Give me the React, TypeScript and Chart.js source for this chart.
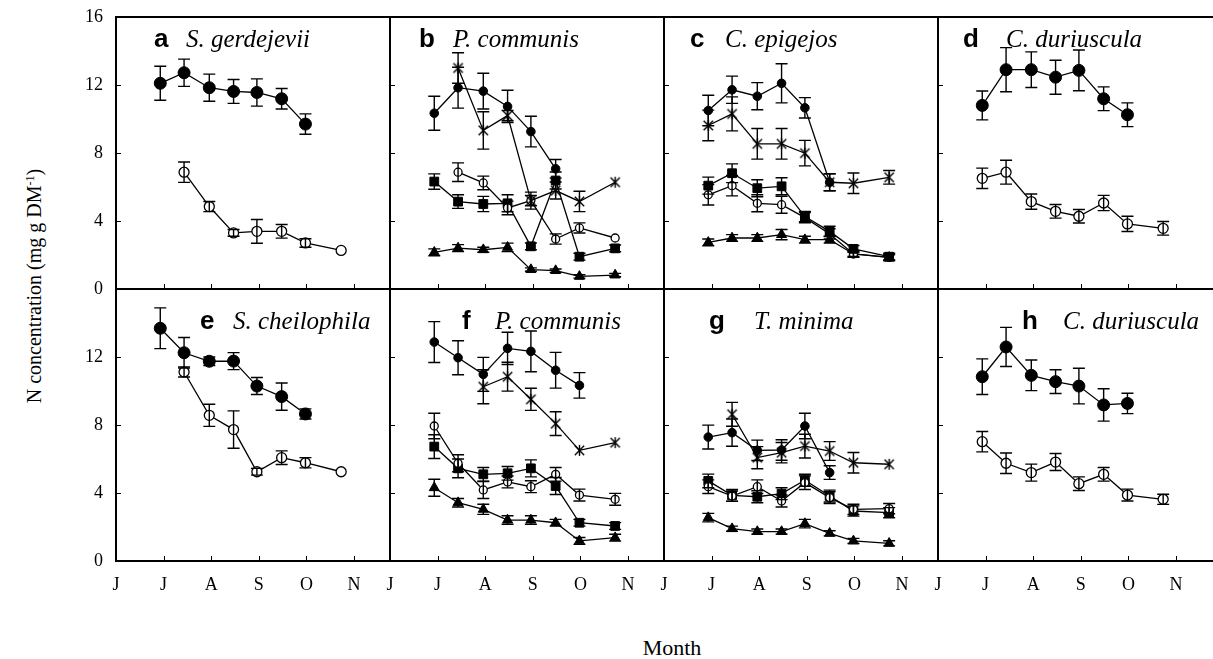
import React, { useEffect, useRef } from 'react';
import { Chart, registerables } from 'chart.js';

Chart.register(...registerables);

// ---------- data ----------
const sampleMonths = [0.93, 1.43, 1.96, 2.47, 2.96, 3.48, 3.98, 4.73];
const monthLabels = ['J', 'J', 'A', 'S', 'O', 'N'];
const monthTicks = [0, 1, 2, 3, 4, 5];
const innerXTicks = [1, 2, 3, 4, 5];
const innerYTicks = [4, 8, 12];
const yLabelsTop = [0, 4, 8, 12, 16];
const yLabelsBottom = [0, 4, 8, 12];

// a  S. gerdejevii
const aFilled = [12.1, 12.72, 11.84, 11.62, 11.56, 11.19, 9.7, null];
const aFilledErr = [1.0, 0.8, 0.8, 0.7, 0.8, 0.6, 0.6, null];
const aOpen = [null, 6.87, 4.85, 3.3, 3.39, 3.39, 2.71, 2.27];
const aOpenErr = [null, 0.6, 0.3, 0.2, 0.7, 0.4, 0.25, 0];

// b  P. communis
const bFilled = [10.34, 11.84, 11.64, 10.74, 9.26, 7.07, null, null];
const bFilledErr = [1.0, 1.2, 1.05, 0.95, 0.9, 0.55, null, null];
const bStar = [null, 13.0, 9.33, 10.2, 5.2, 5.79, 5.15, 6.28];
const bStarErr = [null, 0.9, 1.1, 0.3, 0.5, 0.5, 0.6, 0];
const bOpen = [null, 6.87, 6.24, 4.77, 5.2, 2.94, 3.59, 3.0];
const bOpenErr = [null, 0.55, 0.4, 0.4, 0.3, 0.3, 0.3, 0];
const bSquare = [6.32, 5.14, 5.0, 5.04, 2.51, 6.38, 1.9, 2.39];
const bSquareErr = [0.45, 0.4, 0.45, 0.5, 0.2, 0.5, 0.2, 0.2];
const bTri = [2.16, 2.41, 2.31, 2.45, 1.14, 1.08, 0.74, 0.82];
const bTriErr = [0.2, 0.2, 0.15, 0.25, 0.1, 0.1, 0.1, 0.1];

// c  C. epigejos
const cFilled = [10.5, 11.72, 11.34, 12.1, 10.66, 6.28, null, null];
const cFilledErr = [0.9, 0.8, 0.8, 1.15, 0.6, 0.5, null, null];
const cStar = [9.62, 10.3, 8.54, 8.54, 7.99, 6.28, 6.22, 6.57];
const cStarErr = [0.9, 1.0, 0.9, 0.9, 0.75, 0.5, 0.6, 0.4];
const cSquare = [6.08, 6.81, 5.93, 6.04, 4.26, 3.39, 2.36, 1.9];
const cSquareErr = [0.5, 0.55, 0.5, 0.5, 0.3, 0.3, 0.2, 0.2];
const cOpen = [5.54, 6.08, 5.04, 4.96, 4.2, 3.24, 2.06, 1.86];
const cOpenErr = [0.6, 0.6, 0.5, 0.5, 0.3, 0.3, 0.2, 0.2];
const cTri = [2.74, 3.0, 3.0, 3.2, 2.9, 2.9, 2.06, 1.86];
const cTriErr = [0.2, 0.2, 0.2, 0.3, 0.2, 0.2, 0.15, 0.15];

// d  C. duriuscula
const dFilled = [10.8, 12.9, 12.9, 12.46, 12.86, 11.19, 10.25, null];
const dFilledErr = [0.85, 1.3, 1.05, 1.0, 1.2, 0.7, 0.7, null];
const dOpen = [6.51, 6.87, 5.14, 4.57, 4.28, 5.06, 3.83, 3.57];
const dOpenErr = [0.6, 0.7, 0.45, 0.4, 0.4, 0.45, 0.45, 0.4];

// e  S. cheilophila
const eFilled = [13.69, 12.25, 11.75, 11.76, 10.29, 9.67, 8.65, null];
const eFilledErr = [1.2, 0.9, 0.25, 0.5, 0.5, 0.8, 0.3, null];
const eOpen = [null, 11.12, 8.57, 7.73, 5.25, 6.08, 5.78, 5.25];
const eOpenErr = [null, 0.3, 0.65, 1.1, 0.2, 0.4, 0.3, 0];

// f  P. communis
const fFilled = [12.88, 11.96, 10.98, 12.51, 12.33, 11.22, 10.33, null];
const fFilledErr = [1.2, 1.0, 1.0, 0.95, 1.2, 1.05, 0.75, null];
const fStar = [null, null, 10.25, 10.84, 9.51, 8.08, 6.51, 6.96];
const fStarErr = [null, null, 1.0, 0.85, 0.65, 0.7, 0, 0];
const fOpen = [7.94, 5.75, 4.18, 4.65, 4.37, 5.1, 3.88, 3.63];
const fOpenErr = [0.75, 0.5, 0.5, 0.35, 0.35, 0.4, 0.35, 0.35];
const fSquare = [6.73, 5.45, 5.1, 5.16, 5.45, 4.41, 2.25, 2.06];
const fSquareErr = [0.7, 0.55, 0.4, 0.4, 0.5, 0.5, 0.2, 0.2];
const fTri = [4.31, 3.43, 3.04, 2.41, 2.41, 2.25, 1.18, 1.37];
const fTriErr = [0.5, 0.25, 0.3, 0.25, 0.25, 0.2, 0.2, 0.2];

// g  T. minima
const gFilled = [7.29, 7.55, 6.51, 6.53, 7.94, 5.2, null, null];
const gFilledErr = [0.7, 0.8, 0.6, 0.6, 0.75, 0.4, null, null];
const gStar = [null, 8.63, 6.08, 6.37, 6.76, 6.47, 5.78, 5.69];
const gStarErr = [null, 0.7, 0.65, 0.6, 0.7, 0.55, 0.6, 0];
const gOpen = [4.37, 3.82, 4.37, 3.53, 4.61, 3.73, 3.04, 3.08];
const gOpenErr = [0.4, 0.3, 0.4, 0.35, 0.4, 0.35, 0.3, 0.3];
const gSquare = [4.71, 3.86, 3.78, 3.96, 4.75, 3.82, 2.94, 2.84];
const gSquareErr = [0.4, 0.35, 0.35, 0.35, 0.35, 0.35, 0.3, 0.3];
const gTri = [2.55, 1.9, 1.73, 1.73, 2.2, 1.63, 1.18, 1.04];
const gTriErr = [0.25, 0.15, 0.15, 0.15, 0.25, 0.15, 0.15, 0.15];

// h  C. duriuscula
const hFilled = [10.84, 12.59, 10.92, 10.55, 10.29, 9.18, 9.27, null];
const hFilledErr = [1.05, 1.15, 0.9, 0.7, 1.05, 0.95, 0.6, null];
const hOpen = [7.02, 5.75, 5.2, 5.82, 4.55, 5.1, 3.88, 3.63];
const hOpenErr = [0.6, 0.6, 0.5, 0.5, 0.4, 0.4, 0.35, 0.3];

// ---------- layout / styling ----------
type Kind = 'filled' | 'open' | 'star' | 'square' | 'triangle';
type Val = number | null;
interface SeriesSpec { kind: Kind; values: Val[]; errors: Val[] }
interface PanelSpec {
  letter: string;
  species: string;
  col: number;
  row: number;
  big: boolean;
  letterDx: number;
  speciesDx: number;
  yLabels: number[] | null;
  series: SeriesSpec[];
}

const S = (kind: Kind, values: Val[], errors: Val[]): SeriesSpec => ({ kind, values, errors });

const panels: PanelSpec[] = [
  { letter: 'a', species: 'S. gerdejevii', col: 0, row: 0, big: true, letterDx: 38, speciesDx: 70, yLabels: yLabelsTop,
    series: [S('filled', aFilled, aFilledErr), S('open', aOpen, aOpenErr)] },
  { letter: 'b', species: 'P. communis', col: 1, row: 0, big: false, letterDx: 29, speciesDx: 63, yLabels: null,
    series: [S('filled', bFilled, bFilledErr), S('star', bStar, bStarErr), S('open', bOpen, bOpenErr), S('square', bSquare, bSquareErr), S('triangle', bTri, bTriErr)] },
  { letter: 'c', species: 'C. epigejos', col: 2, row: 0, big: false, letterDx: 26, speciesDx: 61, yLabels: null,
    series: [S('filled', cFilled, cFilledErr), S('star', cStar, cStarErr), S('square', cSquare, cSquareErr), S('open', cOpen, cOpenErr), S('triangle', cTri, cTriErr)] },
  { letter: 'd', species: 'C. duriuscula', col: 3, row: 0, big: true, letterDx: 25, speciesDx: 68, yLabels: null,
    series: [S('filled', dFilled, dFilledErr), S('open', dOpen, dOpenErr)] },
  { letter: 'e', species: 'S. cheilophila', col: 0, row: 1, big: true, letterDx: 84, speciesDx: 117, yLabels: yLabelsBottom,
    series: [S('filled', eFilled, eFilledErr), S('open', eOpen, eOpenErr)] },
  { letter: 'f', species: 'P. communis', col: 1, row: 1, big: false, letterDx: 72, speciesDx: 105, yLabels: null,
    series: [S('filled', fFilled, fFilledErr), S('star', fStar, fStarErr), S('open', fOpen, fOpenErr), S('square', fSquare, fSquareErr), S('triangle', fTri, fTriErr)] },
  { letter: 'g', species: 'T. minima', col: 2, row: 1, big: false, letterDx: 45, speciesDx: 90, yLabels: null,
    series: [S('filled', gFilled, gFilledErr), S('star', gStar, gStarErr), S('open', gOpen, gOpenErr), S('square', gSquare, gSquareErr), S('triangle', gTri, gTriErr)] },
  { letter: 'h', species: 'C. duriuscula', col: 3, row: 1, big: true, letterDx: 84, speciesDx: 125, yLabels: null,
    series: [S('filled', hFilled, hFilledErr), S('open', hOpen, hOpenErr)] },
];

const PANEL_LEFT0 = 116;
const PANEL_W = 274;
const PANEL_H = 272;
const ROW_TOPS = [17, 289];
const PADL = 70;
const PADT = 34;
const PADR = 8;
const PADB = 50;
const TICK_FONT = '"Liberation Serif", "Times New Roman", serif';

function makeAsterisk(size: number): HTMLCanvasElement {
  const c = document.createElement('canvas');
  c.width = size;
  c.height = size;
  const ctx = c.getContext('2d')!;
  ctx.strokeStyle = '#000';
  ctx.lineWidth = 1.4;
  const m = size / 2;
  const r = size / 2 - 1;
  ctx.beginPath();
  ctx.moveTo(m - r * 0.85, m - r * 0.85);
  ctx.lineTo(m + r * 0.85, m + r * 0.85);
  ctx.moveTo(m + r * 0.85, m - r * 0.85);
  ctx.lineTo(m - r * 0.85, m + r * 0.85);
  ctx.moveTo(m, m - r);
  ctx.lineTo(m, m + r);
  ctx.stroke();
  return c;
}

function styleFor(kind: Kind, big: boolean, star: HTMLCanvasElement) {
  switch (kind) {
    case 'filled':
      return { pointStyle: 'circle', pointRadius: big ? 6 : 4.3, pointBackgroundColor: '#000', pointBorderWidth: 1 };
    case 'open':
      return { pointStyle: 'circle', pointRadius: big ? 5 : 4, pointBackgroundColor: '#fff', pointBorderWidth: 1.3 };
    case 'square':
      return { pointStyle: 'rect', pointRadius: 6.2, pointBackgroundColor: '#000', pointBorderWidth: 1 };
    case 'triangle':
      return { pointStyle: 'triangle', pointRadius: 5.8, pointBackgroundColor: '#000', pointBorderWidth: 1 };
    case 'star':
    default:
      return { pointStyle: star, pointRadius: 6, pointBackgroundColor: '#000', pointBorderWidth: 1 };
  }
}

const errorBarPlugin = {
  id: 'errorBars',
  afterDatasetsDraw(chart: any) {
    const ctx = chart.ctx;
    const ys = chart.scales.y;
    ctx.save();
    ctx.strokeStyle = '#000';
    ctx.lineWidth = 1.4;
    chart.data.datasets.forEach((ds: any, i: number) => {
      const meta = chart.getDatasetMeta(i);
      meta.data.forEach((el: any, j: number) => {
        const raw = ds.data[j];
        if (!raw || !raw.e) return;
        const top = ys.getPixelForValue(raw.y + raw.e);
        const bot = ys.getPixelForValue(raw.y - raw.e);
        const cap = 6;
        ctx.beginPath();
        ctx.moveTo(el.x, top);
        ctx.lineTo(el.x, bot);
        ctx.moveTo(el.x - cap, top);
        ctx.lineTo(el.x + cap, top);
        ctx.moveTo(el.x - cap, bot);
        ctx.lineTo(el.x + cap, bot);
        ctx.stroke();
      });
    });
    ctx.restore();
  },
};

const framePlugin = {
  id: 'panelFrame',
  afterDraw(chart: any, _args: any, opts: any) {
    const ctx = chart.ctx;
    const { left, top, right, bottom } = chart.chartArea;
    const xs = chart.scales.x;
    const ys = chart.scales.y;
    ctx.save();
    ctx.strokeStyle = '#000';
    ctx.lineWidth = 2;
    ctx.beginPath();
    ctx.moveTo(right + 1, top);
    ctx.lineTo(left, top);
    ctx.lineTo(left, bottom);
    ctx.lineTo(right + 1, bottom);
    ctx.stroke();
    ctx.lineWidth = 1;
    ctx.beginPath();
    innerXTicks.forEach((v) => {
      const px = Math.round(xs.getPixelForValue(v)) + 0.5;
      ctx.moveTo(px, bottom);
      ctx.lineTo(px, bottom - 5);
    });
    innerYTicks.forEach((v) => {
      const py = Math.round(ys.getPixelForValue(v)) + 0.5;
      ctx.moveTo(left, py);
      ctx.lineTo(left + 5, py);
    });
    ctx.stroke();
    // panel letter + species name
    const base = top + (opts.row === 0 ? 30 : 40);
    ctx.fillStyle = '#000';
    ctx.textBaseline = 'alphabetic';
    ctx.textAlign = 'left';
    ctx.font = 'bold 26px "Liberation Sans", Arial, sans-serif';
    ctx.fillText(opts.letter, left + opts.letterDx, base);
    ctx.font = 'italic 25px "Liberation Serif", "Times New Roman", serif';
    ctx.fillText(opts.species, left + opts.speciesDx, base);
    ctx.restore();
  },
};

function Panel({ spec }: { spec: PanelSpec }) {
  const ref = useRef<HTMLCanvasElement>(null);
  const width = PADL + PANEL_W + PADR;
  const height = PADT + PANEL_H + PADB;
  const left = PANEL_LEFT0 + spec.col * PANEL_W - PADL;
  const top = ROW_TOPS[spec.row] - PADT;

  useEffect(() => {
    const star = makeAsterisk(13);
    const datasets = spec.series.map((s) => {
      const pts: { x: number; y: number; e: number }[] = [];
      s.values.forEach((v, i) => {
        if (v === null) return;
        pts.push({ x: sampleMonths[i], y: v, e: (s.errors[i] as number) || 0 });
      });
      return {
        data: pts,
        showLine: true,
        borderColor: '#000',
        borderWidth: 1.3,
        pointBorderColor: '#000',
        tension: 0,
        ...styleFor(s.kind, spec.big, star),
      };
    });
    const bottomRow = spec.row === 1;
    const chart = new Chart(ref.current!, {
      type: 'scatter',
      data: { datasets: datasets as any },
      plugins: [errorBarPlugin, framePlugin],
      options: {
        animation: false,
        responsive: false,
        maintainAspectRatio: false,
        devicePixelRatio: 1,
        events: [],
        layout: { padding: { top: PADT, right: PADR, left: 0, bottom: 0 } },
        plugins: {
          legend: { display: false },
          tooltip: { enabled: false },
          panelFrame: { letter: spec.letter, species: spec.species, letterDx: spec.letterDx, speciesDx: spec.speciesDx, row: spec.row },
        } as any,
        scales: {
          x: {
            type: 'linear',
            min: 0,
            max: PANEL_W / 47.6,
            grid: { display: false, drawTicks: false },
            border: { display: false },
            afterBuildTicks: (scale: any) => {
              scale.ticks = monthTicks.map((v) => ({ value: v }));
            },
            afterFit: (scale: any) => {
              scale.height = PADB;
            },
            ticks: {
              display: bottomRow,
              autoSkip: false,
              maxRotation: 0,
              padding: 13,
              color: '#000',
              font: { family: TICK_FONT, size: 18 },
              callback: (v: any) => monthLabels[Math.round(Number(v))] ?? '',
            },
          },
          y: {
            type: 'linear',
            min: 0,
            max: 16,
            grid: { display: false, drawTicks: false },
            border: { display: false },
            afterBuildTicks: (scale: any) => {
              scale.ticks = yLabelsTop.map((v) => ({ value: v }));
            },
            afterFit: (scale: any) => {
              scale.width = PADL;
            },
            ticks: {
              display: spec.yLabels !== null,
              padding: 13,
              color: '#000',
              font: { family: TICK_FONT, size: 18 },
              callback: (v: any) => (spec.yLabels && spec.yLabels.includes(Number(v)) ? String(v) : ''),
            },
          },
        },
      } as any,
    });
    return () => chart.destroy();
  }, [spec]);

  return (
    <canvas
      ref={ref}
      width={width}
      height={height}
      style={{ position: 'absolute', left, top, width, height }}
    />
  );
}

export default function App() {
  return (
    <div
      style={{
        position: 'absolute',
        left: 0,
        top: 0,
        width: 1213,
        height: 659,
        overflow: 'hidden',
        background: '#fff',
      }}
    >
      {panels.map((p) => (
        <Panel key={p.letter} spec={p} />
      ))}
      <div
        style={{
          position: 'absolute',
          left: 34 - 200,
          top: 286 - 11,
          width: 400,
          height: 22,
          lineHeight: '22px',
          textAlign: 'center',
          whiteSpace: 'nowrap',
          transform: 'rotate(-90deg)',
          fontFamily: TICK_FONT,
          fontSize: 20,
          color: '#000',
        }}
      >
        N concentration (mg g DM
        <sup style={{ fontSize: 12, lineHeight: 0, verticalAlign: '0.55em' }}>-1</sup>)
      </div>
      <div
        style={{
          position: 'absolute',
          left: 572,
          top: 637,
          width: 200,
          lineHeight: '22px',
          textAlign: 'center',
          fontFamily: TICK_FONT,
          fontSize: 22,
          color: '#000',
        }}
      >
        Month
      </div>
    </div>
  );
}
